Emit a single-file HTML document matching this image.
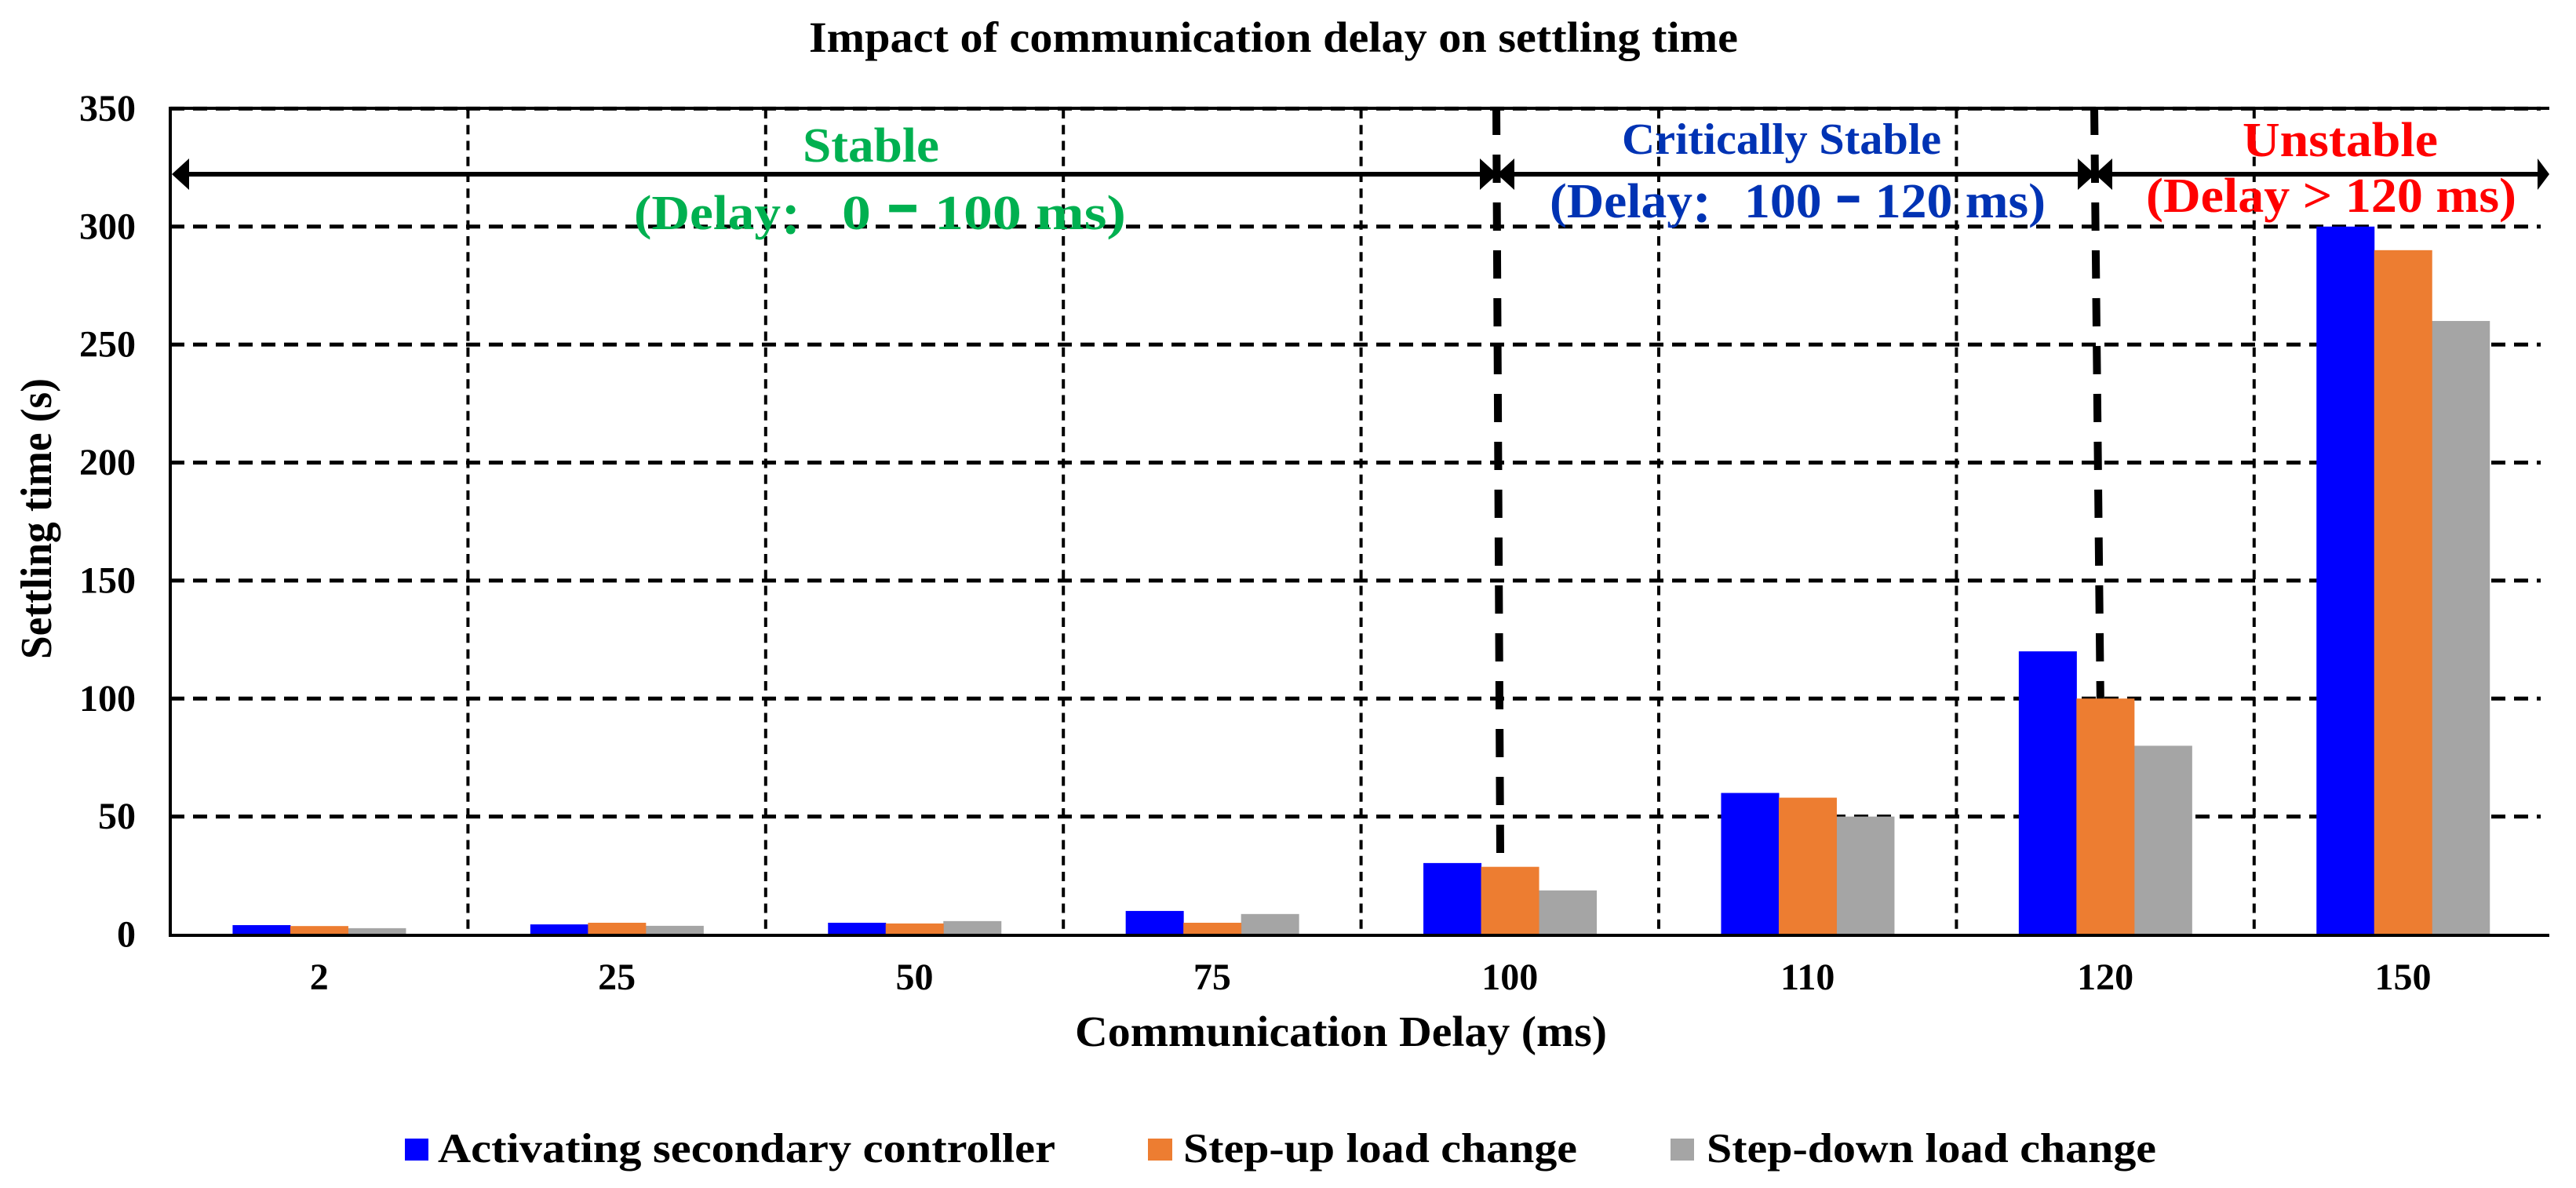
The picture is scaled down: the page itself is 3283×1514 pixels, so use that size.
<!DOCTYPE html>
<html>
<head>
<meta charset="utf-8">
<title>Impact of communication delay on settling time</title>
<style>
html,body{margin:0;padding:0;background:#fff;}
svg{display:block;}
text{font-family:"Liberation Serif","Noto Serif CJK SC","Noto Sans CJK SC",serif;font-weight:bold;}
</style>
</head>
<body>
<svg id="chart" xmlns="http://www.w3.org/2000/svg" width="3283" height="1514" viewBox="0 0 3283 1514">
  <rect x="0" y="0" width="3283" height="1514" fill="#ffffff"/>
  <g id="grid"></g>
  <g id="stability">
    <line x1="1907" y1="136" x2="1912" y2="1087" stroke="#000" stroke-width="10" stroke-dasharray="36 25"/>
    <line x1="2669" y1="136" x2="2677" y2="905" stroke="#000" stroke-width="10" stroke-dasharray="36 25"/>
  </g>
  <g id="bars"></g>
  <g id="axes">
    <line x1="215" y1="138" x2="3249" y2="138" stroke="#000" stroke-width="4"/>
    <line x1="217" y1="136" x2="217" y2="1194" stroke="#000" stroke-width="4"/>
    <line x1="215" y1="1192" x2="3249" y2="1192" stroke="#000" stroke-width="4"/>
  </g>
  <g id="ticks"></g>
  <g id="arrows" fill="#000">
    <rect x="225" y="219" width="3020" height="6"/>
    <polygon points="219,222 241,202 241,242"/>
    <polygon points="1908,222 1886,202 1886,242"/>
    <polygon points="1908,222 1930,202 1930,242"/>
    <polygon points="2670,222 2648,202 2648,242"/>
    <polygon points="2670,222 2692,202 2692,242"/>
    <polygon points="3249,222 3234,202 3234,242"/>
  </g>
  <text x="1031" y="66" font-size="55" fill="#000" textLength="1184" lengthAdjust="spacingAndGlyphs">Impact of communication delay on settling time</text>
  <text x="1370" y="1333" font-size="55" fill="#000" textLength="678" lengthAdjust="spacingAndGlyphs">Communication Delay (ms)</text>
  <text transform="translate(65,840) rotate(-90)" x="0" y="0" font-size="56" fill="#000" textLength="358" lengthAdjust="spacingAndGlyphs">Settling time (s)</text>

  <text x="1023" y="206" font-size="62" fill="#00B050" textLength="174" lengthAdjust="spacingAndGlyphs">Stable</text>
  <g fill="#00B050">
    <text x="808" y="292" font-size="62" textLength="187" lengthAdjust="spacingAndGlyphs">(Delay</text>
    <text x="990" y="300" font-size="66">：</text>
    <text x="1073" y="292" font-size="62" textLength="362" lengthAdjust="spacingAndGlyphs">0 <tspan font-size="112">-</tspan> 100 ms)</text>
  </g>
  <text x="2067" y="196" font-size="56" fill="#0033B4" textLength="407" lengthAdjust="spacingAndGlyphs">Critically Stable</text>
  <g fill="#0033B4">
    <text x="1975" y="277" font-size="62" textLength="182" lengthAdjust="spacingAndGlyphs">(Delay</text>
    <text x="2151" y="285" font-size="66">：</text>
    <text x="2223" y="277" font-size="62" textLength="384" lengthAdjust="spacingAndGlyphs">100 <tspan font-size="100">-</tspan> 120 ms)</text>
  </g>
  <text x="2858" y="199" font-size="62" fill="#FF0000" textLength="249" lengthAdjust="spacingAndGlyphs">Unstable</text>
  <text x="2735" y="270" font-size="62" fill="#FF0000" textLength="472" lengthAdjust="spacingAndGlyphs">(Delay &gt; 120 ms)</text>

  <g id="legend">
    <g>
      <rect x="516" y="1451" width="30" height="28" fill="#0000FF"/>
      <text x="558" y="1481" font-size="53" fill="#000" textLength="787" lengthAdjust="spacingAndGlyphs">Activating secondary controller</text>
    </g>
    <g>
      <rect x="1463" y="1451" width="31" height="28" fill="#ED7D31"/>
      <text x="1508" y="1481" font-size="53" fill="#000" textLength="502" lengthAdjust="spacingAndGlyphs">Step-up load change</text>
    </g>
    <g>
      <rect x="2129" y="1451" width="30" height="28" fill="#A5A5A5"/>
      <text x="2175" y="1481" font-size="53" fill="#000" textLength="573" lengthAdjust="spacingAndGlyphs">Step-down load change</text>
    </g>
  </g>
</svg>
<script>
const categories = ['2', '25', '50', '75', '100', '110', '120', '150'];
const activatingValues = [4, 4.3, 5, 10, 30.3, 60, 120, 300];
const stepUpValues = [3.6, 5, 4.7, 5, 28.7, 58, 100, 290];
const stepDownValues = [2.7, 3.7, 5.7, 8.7, 18.7, 50, 80, 260];
const yTickLabels = [0, 50, 100, 150, 200, 250, 300, 350];

const SVG_NS = 'http://www.w3.org/2000/svg';
const plotLeft = 217;
const categoryWidth = 379.4;
const zeroY = 1191;
const pxPerUnit = 3.0075;
const barWidth = 73.5;

function xScale(i) { return plotLeft + categoryWidth * i; }
function xCenter(i) { return xScale(i + 0.5); }
function yScale(v) { return zeroY - v * pxPerUnit; }

function make(tag, attrs, parent) {
  const el = document.createElementNS(SVG_NS, tag);
  for (const k in attrs) el.setAttribute(k, attrs[k]);
  parent.appendChild(el);
  return el;
}

const gridGroup = document.getElementById('grid');
yTickLabels.forEach(function (t) {
  if (t === 0) return;
  const line = make('line', { x1: plotLeft, x2: 3238, y1: yScale(t), y2: yScale(t), stroke: '#000', 'stroke-width': 5, 'stroke-dasharray': '18 11' }, gridGroup);
  
  
});
categories.forEach(function (c, i) {
  if (i === 0) return;
  const line = make('line', { x1: xScale(i), x2: xScale(i), y1: 139, y2: 1186, stroke: '#000', 'stroke-width': 4, 'stroke-dasharray': '12 8.25' }, gridGroup);
  
  
});

const barGroup = document.getElementById('bars');
function drawSeries(values, color, offset, name) {
  values.forEach(function (v, i) {
    const top = yScale(v);
    const bar = make('rect', { x: xCenter(i) + offset * barWidth - barWidth / 2, y: top, width: barWidth + 0.5, height: 1192 - top, fill: color }, barGroup);
    
    
  });
}
drawSeries(activatingValues, '#0000FF', -1, 'bar-activating-secondary-controller');
drawSeries(stepDownValues, '#A5A5A5', 1, 'bar-step-down-load-change');
drawSeries(stepUpValues, '#ED7D31', 0, 'bar-step-up-load-change');

const tickGroup = document.getElementById('ticks');
yTickLabels.forEach(function (t) {
  const label = make('text', { x: 173, y: yScale(t) + 15.5, 'font-size': 48, 'text-anchor': 'end', fill: '#000' }, tickGroup);
  label.textContent = String(t);
  
  
});
categories.forEach(function (c, i) {
  const label = make('text', { x: xCenter(i), y: 1261, 'font-size': 48, 'text-anchor': 'middle', fill: '#000' }, tickGroup);
  label.textContent = c;
  
  
});
</script>
</body>
</html>
